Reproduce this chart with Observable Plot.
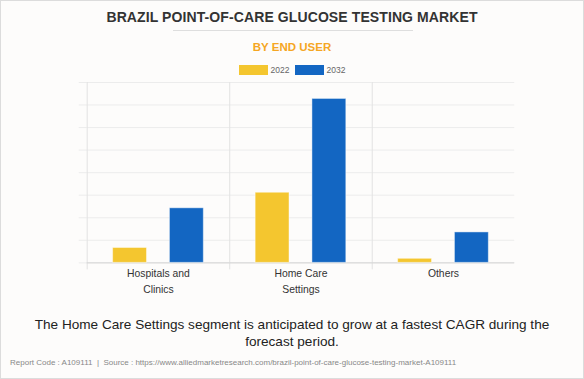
<!DOCTYPE html>
<html>
<head>
<meta charset="utf-8">
<script src="https://cdn.jsdelivr.net/npm/d3@7"></script>
<script src="https://cdn.jsdelivr.net/npm/@observablehq/plot@0.6"></script>
<style>
  html, body { margin: 0; padding: 0; background: #fff; }
  #card {
    position: relative; width: 584px; height: 379px; box-sizing: border-box;
    border: 1px solid #dcdcdc; background: #fdfcfb; overflow: hidden;
    font-family: "Liberation Sans", Arial, sans-serif;
  }
  #title { position: absolute; left: 0; right: 0; top: 8px; text-align: center;
    font-weight: bold; font-size: 14px; color: #333; letter-spacing: 0.1px; }
  #rule { position: absolute; left: 172px; width: 240px; top: 29px; height: 1px; background: #dedede; }
  #subtitle { position: absolute; left: 0; right: 0; top: 40px; text-align: center;
    font-weight: bold; font-size: 11.5px; color: #f5a623; }
  #legend { position: absolute; left: 0; right: 0; top: 64px; display: flex; justify-content: center;
    align-items: center; font-size: 8.5px; color: #666; }
  #legend .sw { display: inline-block; width: 29px; height: 10px; margin-right: 3px; }
  #legend .item { display: flex; align-items: center; margin: 0 2.5px; }
  #chart { position: absolute; left: 0; top: 76px; }
  #caption { position: absolute; left: 20px; right: 20px; top: 315px; text-align: center;
    font-size: 13.6px; color: #222; line-height: 17px; }
  #footer { position: absolute; left: 9px; top: 357px; font-size: 8px; color: #888; }
</style>
</head>
<body>
<div id="card">
  <div id="title">BRAZIL POINT-OF-CARE GLUCOSE TESTING MARKET</div>
  <div id="rule"></div>
  <div id="subtitle">BY END USER</div>
  <div id="legend"></div>
  <div id="chart"></div>
  <div id="caption">The Home Care Settings segment is anticipated to grow at a fastest CAGR during the forecast period.</div>
  <div id="footer">Report Code : A109111 &nbsp;|&nbsp; Source : https://www.alliedmarketresearch.com/brazil-point-of-care-glucose-testing-market-A109111</div>
</div>
<script>
const categories = ["Hospitals and\nClinics", "Home Care\nSettings", "Others"];
const years = ["2022", "2032"];
const values2022 = [6.6, 31.1, 1.8];
const values2032 = [24.2, 72.7, 13.5];
const colors = ["#f4c62f", "#1366c2"];
const yTicks = [0, 10, 20, 30, 40, 50, 60, 70, 80];

const data = [];
categories.forEach((c, i) => {
  data.push({category: c, year: years[0], value: values2022[i]});
  data.push({category: c, year: years[1], value: values2032[i]});
});

// legend
const legend = document.getElementById("legend");
years.forEach((y, i) => {
  const item = document.createElement("div");
  item.className = "item";
  item.innerHTML = `<span class="sw" style="background:${colors[i]}"></span><span>${y}</span>`;
  legend.appendChild(item);
});

const plot = Plot.plot({
  width: 584,
  height: 226,
  marginLeft: 85,
  marginRight: 69,
  marginTop: 5,
  marginBottom: 40,
  style: {background: "transparent", fontFamily: "'Liberation Sans', Arial, sans-serif"},
  fx: {domain: categories, padding: 0, label: null},
  x: {domain: years, paddingInner: 0.4, paddingOuter: 0.445, axis: null},
  y: {domain: [0, 80], ticks: yTicks, label: null},
  color: {domain: years, range: colors},
  marks: [
    Plot.gridY(yTicks, {stroke: "#ececec", strokeOpacity: 1}),
    Plot.axisY(yTicks, {tickSize: 8, tickFormat: () => "", stroke: "#ececec", strokeOpacity: 1, label: null}),
    Plot.frame({anchor: "left", stroke: "#e2e2e2", insetBottom: -6}),
    Plot.ruleY([0], {stroke: "#d4d4d4"}),
    Plot.barY(data, {fx: "category", x: "year", y: "value", fill: "year", stroke: "#ffffff", strokeOpacity: 0.45}),
    Plot.axisFx({anchor: "bottom", tickSize: 0, tickPadding: 3, fontSize: 10.4, lineHeight: 1.55, fill: "#333", label: null})
  ]
});
document.getElementById("chart").appendChild(plot);
</script>
</body>
</html>
